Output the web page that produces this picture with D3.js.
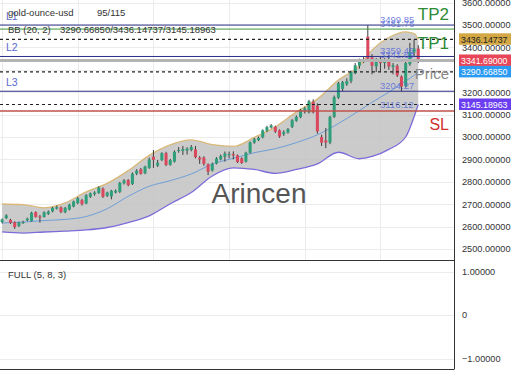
<!DOCTYPE html>
<html>
<head>
<meta charset="utf-8">
<script src="https://cdn.jsdelivr.net/npm/d3@7"></script>
<style>
  body { margin: 0; background: #fff; }
  text { font-family: 'Liberation Sans', Arial, sans-serif; }
</style>
</head>
<body>
<svg width="520" height="390"></svg>
<script>
// [open, high, low, close]
const candles = [
  [2620, 2636, 2614, 2632], [2638, 2655, 2634, 2650], [2630, 2635, 2612, 2617], [2620, 2624, 2590, 2598],
  [2603, 2622, 2598, 2618], [2618, 2626, 2612, 2620], [2628, 2640, 2624, 2636], [2625, 2666, 2622, 2662],
  [2665, 2668, 2640, 2643], [2645, 2652, 2618, 2640], [2643, 2668, 2640, 2664], [2656, 2672, 2652, 2667],
  [2668, 2688, 2664, 2684], [2680, 2694, 2676, 2687], [2686, 2690, 2660, 2665], [2664, 2688, 2660, 2684],
  [2676, 2702, 2672, 2698], [2690, 2716, 2686, 2712], [2705, 2732, 2700, 2727], [2718, 2724, 2694, 2700],
  [2703, 2745, 2700, 2740], [2733, 2752, 2728, 2748], [2745, 2758, 2738, 2752], [2750, 2780, 2746, 2775],
  [2770, 2775, 2728, 2733], [2738, 2756, 2732, 2752], [2735, 2764, 2722, 2760], [2752, 2766, 2748, 2760],
  [2755, 2800, 2750, 2795], [2793, 2812, 2788, 2806], [2808, 2812, 2780, 2785], [2790, 2842, 2786, 2836],
  [2836, 2856, 2830, 2850], [2856, 2862, 2832, 2836], [2838, 2872, 2834, 2868], [2862, 2908, 2858, 2900],
  [2912, 2942, 2862, 2898], [2872, 2898, 2866, 2885], [2897, 2932, 2892, 2928], [2928, 2934, 2870, 2875],
  [2876, 2902, 2872, 2897], [2890, 2940, 2886, 2934], [2938, 2955, 2930, 2942], [2938, 2960, 2920, 2946],
  [2940, 2954, 2922, 2948], [2942, 2964, 2936, 2955], [2945, 2960, 2905, 2910], [2908, 2915, 2880, 2900],
  [2908, 2914, 2872, 2880], [2878, 2882, 2830, 2845], [2850, 2886, 2846, 2880], [2882, 2910, 2878, 2904],
  [2900, 2922, 2896, 2915], [2912, 2935, 2890, 2926], [2920, 2935, 2905, 2924], [2924, 2936, 2900, 2918],
  [2918, 2922, 2884, 2888], [2905, 2910, 2880, 2884], [2890, 2934, 2886, 2930], [2930, 2980, 2926, 2976],
  [2975, 2996, 2970, 2990], [2986, 3002, 2982, 2996], [2998, 3034, 2994, 3030], [3028, 3050, 3022, 3044],
  [3042, 3058, 3038, 3052], [3046, 3050, 3018, 3024], [3030, 3034, 2996, 3002], [3012, 3030, 3005, 3022],
  [3020, 3040, 3015, 3035], [3045, 3080, 3040, 3075], [3072, 3096, 3068, 3090], [3088, 3125, 3084, 3120],
  [3118, 3135, 3105, 3128], [3110, 3166, 3105, 3160], [3158, 3168, 3105, 3110], [3140, 3150, 3015, 3025],
  [3000, 3010, 2960, 2975], [2985, 3040, 2950, 2975], [2975, 3095, 2968, 3090], [3090, 3185, 3085, 3178],
  [3175, 3246, 3170, 3240], [3215, 3250, 3205, 3245], [3235, 3262, 3228, 3250], [3250, 3296, 3240, 3290],
  [3285, 3330, 3280, 3320], [3318, 3350, 3305, 3345], [3340, 3358, 3330, 3345], [3448, 3499.85, 3340, 3350],
  [3355, 3370, 3280, 3318], [3315, 3352, 3290, 3345], [3340, 3360, 3290, 3330], [3330, 3352, 3305, 3345],
  [3345, 3365, 3300, 3315], [3312, 3330, 3280, 3320], [3318, 3325, 3268, 3275], [3270, 3275, 3204.27, 3225],
  [3228, 3335, 3222, 3330], [3325, 3420, 3318, 3380], [3378, 3435, 3360, 3395], [3395, 3410, 3330, 3341.69]
]

// Bollinger band (20, 2) read at sample bars
const bbIndex = [0, 5, 10, 15, 20, 25, 30, 35, 40, 45, 50, 55, 60, 65, 70, 75, 80, 85, 88, 92, 96, 98, 99]
const bbUpper = [2701, 2698, 2684, 2706, 2755, 2793, 2850, 2918, 2965, 2987, 2966, 2958, 2998, 3045, 3112, 3170, 3254, 3318, 3388, 3444, 3469, 3462, 3436.14737]
const bbMiddle = [2616, 2620, 2627, 2632, 2645, 2680, 2735, 2780, 2805, 2835, 2879, 2905, 2930, 2948, 2975, 3010, 3060, 3118, 3155, 3200, 3250, 3275, 3290.66850]
const bbLower = [2576, 2571, 2576, 2580, 2585, 2596, 2618, 2648, 2702, 2752, 2826, 2862, 2855, 2838, 2855, 2880, 2932, 2903, 2913, 2945, 3000, 3090, 3145.18963]

const priceTicks = [2500, 2600, 2700, 2800, 2900, 3000, 3100, 3200, 3300, 3400, 3500, 3600]
const oscTicks = [1, 0, -1]
const gridIndex = [0, 18, 36, 54, 72, 90]

const levelNames = ['L1', 'TP2', 'L2', 'Price', 'L3', 'SL']
const levelValues = [3499.85, 3481.76, 3359.45, 3341.69, 3204.27, 3116.12]
const bbNames = ['middle', 'upper', 'lower']
const bbLast = [3290.66850, 3436.14737, 3145.18963]

const svg = d3.select('svg')
const plotRight = 454
const mainBottom = 260.5
const oscBottom = 369

const x = d3.scaleLinear().domain([-0.5, 107.5]).range([0, plotRight])
const y = d3.scaleLinear().domain([2450.9, 3611.6]).range([260, 0])
const yOsc = d3.scaleLinear().domain([-1.241, 1.253]).range([369, 260.5])
const step = x(1) - x(0)

svg.append('rect').attr('width', 520).attr('height', 390).attr('fill', '#fff')

// grid
const grid = svg.append('g').attr('stroke', '#ececec').attr('stroke-width', 1)
grid.selectAll('.hy').data(priceTicks).join('line')
  .attr('x1', 0).attr('x2', plotRight)
  .attr('y1', d => Math.round(y(d)) + 0.5).attr('y2', d => Math.round(y(d)) + 0.5)
grid.selectAll('.vx').data(gridIndex).join('line')
  .attr('x1', d => Math.round(x(d)) + 0.5).attr('x2', d => Math.round(x(d)) + 0.5)
  .attr('y1', 0).attr('y2', mainBottom)
grid.selectAll('.ho').data(oscTicks).join('line')
  .attr('x1', 0).attr('x2', plotRight)
  .attr('y1', d => Math.round(yOsc(d)) + 0.5).attr('y2', d => Math.round(yOsc(d)) + 0.5)

// bollinger band
const band = bbIndex.map((d, i) => ({ i: d, u: bbUpper[i], m: bbMiddle[i], l: bbLower[i] }))
const curve = d3.curveMonotoneX
svg.append('path')
  .attr('d', d3.area().x(d => x(d.i)).y0(d => y(d.l)).y1(d => y(d.u)).curve(curve)(band))
  .attr('fill', '#c2c2c2').attr('fill-opacity', 0.85)
svg.append('path')
  .attr('d', d3.line().x(d => x(d.i)).y(d => y(d.m)).curve(curve)(band))
  .attr('fill', 'none').attr('stroke', '#6f9fd8').attr('stroke-width', 1)
svg.append('path')
  .attr('d', d3.line().x(d => x(d.i)).y(d => y(d.u)).curve(curve)(band))
  .attr('fill', 'none').attr('stroke', '#d9b878').attr('stroke-width', 1.3)
svg.append('path')
  .attr('d', d3.line().x(d => x(d.i)).y(d => y(d.l)).curve(curve)(band))
  .attr('fill', 'none').attr('stroke', '#7a6ddb').attr('stroke-width', 1.3)

// candles
const up = '#2f9e7a'
const down = '#d9485c'
const cg = svg.append('g')
cg.selectAll('line').data(candles).join('line')
  .attr('x1', (d, i) => x(i)).attr('x2', (d, i) => x(i))
  .attr('y1', d => y(d[1])).attr('y2', d => y(d[2]))
  .attr('stroke', '#3c3c3c').attr('stroke-width', 1)
cg.selectAll('rect').data(candles).join('rect')
  .attr('x', (d, i) => x(i) - step * 0.36)
  .attr('width', step * 0.72)
  .attr('y', d => y(Math.max(d[0], d[3])))
  .attr('height', d => Math.max(1, Math.abs(y(d[0]) - y(d[3]))))
  .attr('fill', d => d[3] >= d[0] ? up : down)

// level lines
const levelStyle = {
  L1: { stroke: '#2b2f86', width: 1 },
  TP2: { stroke: '#3e9a3e', width: 1 },
  L2: { stroke: '#2b2f86', width: 1 },
  Price: { stroke: '#b4b4b4', width: 3 },
  L3: { stroke: '#2b2f86', width: 1 },
  SL: { stroke: '#c0504a', width: 1.5 }
}
const lg = svg.append('g')
levelNames.forEach((n, i) => {
  const yy = y(levelValues[i])
  lg.append('line').attr('x1', 0).attr('x2', plotRight).attr('y1', yy).attr('y2', yy)
    .attr('stroke', levelStyle[n].stroke).attr('stroke-width', levelStyle[n].width)
})
bbLast.forEach(v => {
  lg.append('line').attr('x1', 0).attr('x2', plotRight).attr('y1', y(v)).attr('y2', y(v))
    .attr('stroke', '#222').attr('stroke-width', 1.2).attr('stroke-dasharray', '3,3')
})

// level value labels
levelNames.forEach((n, i) => {
  lg.append('text').attr('x', 380).attr('y', y(levelValues[i]) - 2.5)
    .attr('font-size', 9.5).attr('fill', '#5a6cd8').attr('fill-opacity', 0.85)
    .text(levelValues[i].toFixed(2))
})

// left L labels
levelNames.filter(n => n[0] === 'L').forEach(n => {
  lg.append('text').attr('x', 6).attr('y', y(levelValues[levelNames.indexOf(n)]) - 5)
    .attr('font-size', 10.5).attr('fill', '#5a6acf').text(n)
})

// right side names
const sideText = [
  { t: 'TP2', v: levelValues[1], dy: -9, c: '#2e8b35', s: 17 },
  { t: 'TP1', v: bbLast[1], dy: 10, c: '#2e8b35', s: 17 },
  { t: 'Price', v: levelValues[3], dy: 19, c: '#8a8a8a', s: 15 },
  { t: 'SL', v: levelValues[5], dy: 19, c: '#d0312d', s: 16 }
]
sideText.forEach(d => {
  svg.append('text').attr('x', 449).attr('y', y(d.v) + d.dy)
    .attr('text-anchor', 'end').attr('font-size', d.s).attr('fill', d.c).text(d.t)
})

// watermark
svg.append('text').attr('x', 259).attr('y', 203).attr('text-anchor', 'middle')
  .attr('font-size', 28).attr('fill', '#555').text('Arincen')

// header
svg.append('text').attr('x', 8).attr('y', 16).attr('font-size', 9.5).attr('fill', '#333').text('gold-ounce-usd')
svg.append('text').attr('x', 97).attr('y', 16).attr('font-size', 9.5).attr('fill', '#333').text('95/115')
svg.append('text').attr('x', 8).attr('y', 33).attr('font-size', 9.5).attr('fill', '#333').text('BB (20, 2)')
svg.append('text').attr('x', 60).attr('y', 33).attr('font-size', 9.5).attr('fill', '#333')
  .text(bbLast.map(d => d.toFixed(5)).join('/'))
svg.append('text').attr('x', 8).attr('y', 278).attr('font-size', 9.5).attr('fill', '#333').text('FULL (5, 8, 3)')

// axes
const yAxis = d3.axisRight(y).tickValues(priceTicks).tickFormat(d3.format('.5f')).tickSize(0).tickPadding(8)
const ya = svg.append('g').attr('transform', `translate(${plotRight},0)`).call(yAxis)
ya.select('.domain').remove()
ya.selectAll('text').attr('font-size', 9.2).attr('fill', '#333').attr('font-family', 'Liberation Sans, Arial, sans-serif')

const oAxis = d3.axisRight(yOsc).tickValues(oscTicks).tickFormat(d => d === 0 ? '0' : d3.format('.5f')(d)).tickSize(0).tickPadding(8)
const oa = svg.append('g').attr('transform', `translate(${plotRight},0)`).call(oAxis)
oa.select('.domain').remove()
oa.selectAll('text').attr('font-size', 9.2).attr('fill', '#333').attr('font-family', 'Liberation Sans, Arial, sans-serif')

// badges
const badgeStyle = {
  upper: { bg: '#d2a744', fg: '#222' },
  price: { bg: '#e8475a', fg: '#fff' },
  middle: { bg: '#2a9af2', fg: '#fff' },
  lower: { bg: '#6a3ef0', fg: '#fff' }
}
const badges = [
  { k: 'upper', v: bbLast[1] },
  { k: 'price', v: levelValues[3] },
  { k: 'middle', v: bbLast[0] },
  { k: 'lower', v: bbLast[2] }
]
badges.forEach(b => {
  const yy = y(b.v)
  svg.append('rect').attr('x', 459).attr('y', yy - 6).attr('width', 52).attr('height', 11.5)
    .attr('fill', badgeStyle[b.k].bg)
  svg.append('text').attr('x', 461).attr('y', yy + 3.3).attr('font-size', 8.8)
    .attr('fill', badgeStyle[b.k].fg).text(b.v.toFixed(5))
})

// frame
const fr = svg.append('g').attr('stroke', '#333').attr('stroke-width', 1)
fr.append('line').attr('x1', plotRight + 0.5).attr('x2', plotRight + 0.5).attr('y1', 0).attr('y2', oscBottom)
fr.append('line').attr('x1', 0).attr('x2', plotRight).attr('y1', mainBottom).attr('y2', mainBottom)
fr.append('line').attr('x1', 0).attr('x2', plotRight + 0.5).attr('y1', oscBottom + 0.5).attr('y2', oscBottom + 0.5)
</script>
</body>
</html>
